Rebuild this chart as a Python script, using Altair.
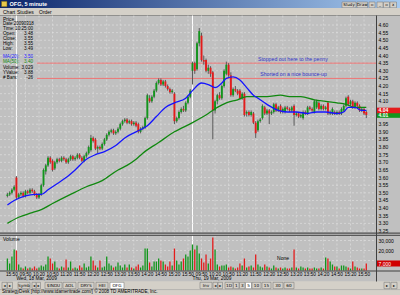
import altair as alt
import pandas as pd

FONT = "Liberation Sans"

# ---------------- data ----------------
opens = [
    3.48, 3.49, 3.50, 3.52, 3.60, 3.47, 3.49, 3.50, 3.48, 3.51,
    3.50, 3.52, 3.51, 3.49, 3.47, 3.49, 3.55, 3.64, 3.68, 3.73,
    3.71, 3.66, 3.70, 3.72, 3.71, 3.73, 3.72, 3.70, 3.72, 3.74,
    3.72, 3.73, 3.75, 3.73, 3.71, 3.74, 3.76, 3.78, 3.86, 3.85,
    3.79, 3.80, 3.79, 3.82, 3.85, 3.88, 3.90, 3.91, 3.89, 3.90,
    3.92, 3.95, 3.97, 3.98, 3.96, 3.97, 3.95, 3.96, 3.95, 3.90,
    3.92, 3.93, 3.99, 4.12, 4.10, 4.13, 4.17, 4.22, 4.24, 4.21,
    4.23, 4.20, 4.18, 4.16, 4.15, 3.97, 3.99, 4.03, 4.05, 4.04,
    4.09, 4.13, 4.30, 4.35, 4.31, 4.48, 4.53, 4.37, 4.37, 4.30,
    4.32, 4.29, 4.04, 4.10, 4.14, 4.12, 4.20, 4.28, 4.34, 4.27,
    4.14, 4.18, 4.17, 4.17, 4.12, 4.15, 4.02, 4.03, 4.01, 4.02,
    3.96, 3.91, 3.97, 3.99, 4.06, 4.02, 4.04, 4.02, 4.03, 4.08,
    4.04, 4.07, 4.03, 4.03, 4.06, 4.05, 4.04, 4.07, 4.01, 4.02,
    4.00, 3.99, 4.03, 4.02, 4.06, 4.05, 4.03, 4.06, 4.09, 4.05,
    4.07, 4.05, 4.09, 4.02, 4.02, 4.03, 4.02, 4.03, 4.02, 4.04,
    4.07, 4.13, 4.08, 4.10, 4.06, 4.09, 4.07, 4.04, 4.05, 4.03,
]
highs = [
    3.50, 3.51, 3.53, 3.55, 3.61, 3.50, 3.51, 3.51, 3.52, 3.52,
    3.53, 3.53, 3.52, 3.50, 3.50, 3.56, 3.66, 3.69, 3.74, 3.74,
    3.72, 3.71, 3.73, 3.73, 3.74, 3.74, 3.73, 3.73, 3.75, 3.75,
    3.74, 3.76, 3.76, 3.74, 3.75, 3.77, 3.81, 3.88, 3.87, 3.86,
    3.81, 3.81, 3.83, 3.86, 3.89, 3.91, 3.92, 3.92, 3.91, 3.93,
    3.96, 3.98, 3.99, 3.99, 3.98, 3.98, 3.97, 3.97, 3.96, 3.93,
    3.94, 4.00, 4.15, 4.14, 4.14, 4.18, 4.23, 4.25, 4.25, 4.24,
    4.24, 4.21, 4.19, 4.18, 4.16, 4.00, 4.04, 4.06, 4.07, 4.10,
    4.14, 4.18, 4.36, 4.36, 4.49, 4.58, 4.55, 4.40, 4.38, 4.34,
    4.33, 4.30, 4.11, 4.15, 4.16, 4.21, 4.31, 4.36, 4.35, 4.29,
    4.19, 4.20, 4.18, 4.18, 4.16, 4.16, 4.04, 4.04, 4.04, 4.03,
    3.97, 3.98, 3.99, 4.08, 4.07, 4.05, 4.05, 4.04, 4.09, 4.09,
    4.07, 4.08, 4.06, 4.07, 4.07, 4.06, 4.07, 4.08, 4.03, 4.03,
    4.02, 4.04, 4.04, 4.07, 4.07, 4.06, 4.11, 4.11, 4.10, 4.08,
    4.08, 4.07, 4.10, 4.04, 4.06, 4.04, 4.04, 4.04, 4.06, 4.08,
    4.13, 4.14, 4.11, 4.11, 4.10, 4.10, 4.08, 4.06, 4.06, 4.04,
]
lows = [
    3.47, 3.48, 3.49, 3.51, 3.46, 3.46, 3.48, 3.47, 3.47, 3.49,
    3.49, 3.50, 3.48, 3.46, 3.46, 3.48, 3.54, 3.62, 3.67, 3.69,
    3.64, 3.65, 3.69, 3.70, 3.70, 3.71, 3.69, 3.69, 3.71, 3.71,
    3.71, 3.72, 3.72, 3.70, 3.70, 3.73, 3.75, 3.77, 3.83, 3.78,
    3.76, 3.78, 3.78, 3.81, 3.84, 3.87, 3.89, 3.88, 3.88, 3.89,
    3.91, 3.94, 3.96, 3.95, 3.95, 3.94, 3.94, 3.93, 3.89, 3.89,
    3.91, 3.92, 3.98, 4.09, 4.09, 4.12, 4.16, 4.21, 4.20, 4.20,
    4.19, 4.17, 4.15, 4.15, 3.95, 3.96, 3.98, 4.02, 4.03, 4.03,
    4.08, 4.12, 4.21, 4.28, 4.30, 4.46, 4.36, 4.34, 4.29, 4.28,
    4.26, 3.85, 4.02, 4.08, 4.11, 4.11, 4.19, 4.27, 4.26, 4.13,
    4.13, 4.16, 4.14, 4.11, 4.11, 4.00, 4.00, 4.00, 4.00, 3.95,
    3.86, 3.90, 3.96, 3.98, 4.01, 4.01, 3.95, 4.01, 4.02, 4.03,
    4.03, 4.02, 4.02, 4.02, 4.04, 4.03, 4.03, 3.94, 4.00, 3.99,
    3.99, 3.98, 4.01, 4.01, 4.04, 4.03, 4.02, 4.05, 4.04, 4.04,
    4.04, 4.04, 4.01, 4.01, 4.01, 4.01, 4.01, 4.01, 4.01, 4.03,
    4.06, 4.07, 4.07, 4.05, 4.05, 4.06, 4.03, 4.03, 4.01, 3.99,
]
closes = [
    3.49, 3.50, 3.52, 3.54, 3.47, 3.49, 3.50, 3.48, 3.51, 3.50,
    3.52, 3.51, 3.49, 3.47, 3.49, 3.55, 3.65, 3.68, 3.73, 3.70,
    3.65, 3.70, 3.72, 3.71, 3.73, 3.72, 3.70, 3.72, 3.74, 3.72,
    3.73, 3.75, 3.73, 3.71, 3.74, 3.76, 3.80, 3.86, 3.84, 3.79,
    3.80, 3.79, 3.82, 3.85, 3.88, 3.90, 3.91, 3.89, 3.90, 3.92,
    3.95, 3.97, 3.98, 3.96, 3.97, 3.95, 3.96, 3.94, 3.90, 3.92,
    3.93, 3.99, 4.14, 4.10, 4.13, 4.17, 4.22, 4.24, 4.21, 4.23,
    4.20, 4.18, 4.16, 4.17, 3.97, 3.99, 4.03, 4.05, 4.04, 4.09,
    4.13, 4.17, 4.35, 4.30, 4.48, 4.56, 4.37, 4.36, 4.30, 4.32,
    4.28, 4.04, 4.10, 4.14, 4.12, 4.20, 4.30, 4.34, 4.27, 4.14,
    4.18, 4.17, 4.15, 4.12, 4.15, 4.01, 4.03, 4.01, 4.03, 3.96,
    3.89, 3.97, 3.98, 4.07, 4.02, 4.04, 4.02, 4.03, 4.08, 4.04,
    4.06, 4.03, 4.05, 4.06, 4.05, 4.04, 4.06, 4.01, 4.02, 4.00,
    4.01, 4.03, 4.02, 4.06, 4.05, 4.04, 4.10, 4.10, 4.05, 4.07,
    4.05, 4.06, 4.02, 4.03, 4.05, 4.02, 4.03, 4.02, 4.05, 4.07,
    4.12, 4.08, 4.10, 4.06, 4.09, 4.07, 4.04, 4.05, 4.02, 4.01,
]
volume_k = [
    12, 7, 14, 21, 20, 6, 3, 2, 4, 2,
    3, 2, 4, 2, 3, 5, 4, 6, 14, 12,
    7, 9, 3, 2, 4, 3, 11, 3, 9, 2,
    3, 2, 5, 3, 7, 3, 4, 14, 10, 5,
    3, 10, 3, 4, 14, 7, 5, 3, 4, 8,
    5, 3, 6, 3, 6, 3, 2, 4, 6, 3,
    5, 22, 22, 8, 4, 9, 9, 12, 10, 9,
    6, 4, 9, 5, 22, 10, 6, 9, 12, 16,
    14, 20, 26, 21, 25, 17, 12, 8, 16, 7,
    12, 33, 21, 6, 4, 5, 5, 6, 3, 4,
    3, 2, 3, 7, 5, 12, 3, 4, 5, 3,
    16, 6, 4, 3, 6, 4, 3, 2, 5, 3,
    2, 3, 2, 3, 2, 2, 3, 21, 3, 2,
    4, 3, 2, 3, 2, 2, 3, 2, 2, 3,
    2, 13, 12, 9, 6, 4, 4, 2, 5, 5,
    4, 3, 2, 9, 4, 3, 2, 2, 2, 7,
]
ma20_bars = [0, 3, 8, 12, 15, 18, 22, 26, 30, 35, 39, 43, 48, 52, 57, 62, 66, 70, 74,
             79, 82, 86, 89, 92, 95, 97, 100, 103, 106, 109, 111, 115, 120, 124, 128,
             133, 137, 141, 146, 149, 151, 154, 157, 159]
ma20_vals = [3.42, 3.45, 3.48, 3.49, 3.49, 3.52, 3.56, 3.60, 3.65, 3.72, 3.75, 3.77, 3.81,
             3.86, 3.90, 3.94, 4.00, 4.06, 4.09, 4.12, 4.17, 4.22, 4.21, 4.19, 4.22, 4.25,
             4.26, 4.24, 4.19, 4.14, 4.12, 4.08, 4.04, 4.03, 4.03, 4.02, 4.03, 4.03, 4.02,
             4.03, 4.06, 4.06, 4.04, 4.04]
ma50_bars = [0, 5, 11, 15, 20, 28, 35, 42, 49, 53, 57, 60, 67, 74, 82, 89, 93, 97, 102,
             106, 111, 115, 121, 125, 130, 136, 141, 146, 150, 154, 159]
ma50_vals = [3.30, 3.34, 3.37, 3.39, 3.43, 3.49, 3.54, 3.58, 3.65, 3.68, 3.72, 3.76, 3.83,
             3.90, 3.96, 4.02, 4.06, 4.09, 4.11, 4.13, 4.13, 4.13, 4.14, 4.13, 4.13, 4.11,
             4.10, 4.09, 4.08, 4.06, 4.06]

price_tick_labels = ["4.60", "4.55", "4.50", "4.45", "4.40", "4.35", "4.30", "4.25", "4.20",
                     "4.15", "4.10", "4.05", "4.00", "3.95", "3.90", "3.85", "3.80", "3.75",
                     "3.70", "3.65", "3.60", "3.55", "3.50", "3.45", "3.40", "3.35", "3.30",
                     "3.25"]
price_labels_hidden = ["4.05", "4.00"]      # covered by the last-value boxes
volume_tick_k = [30, 20, 10]
volume_tick_labels = ["30,000", "20,000", "10,000"]
volume_labels_hidden = ["10,000"]           # covered by the last-volume box
time_labels = ["15:50", "09:50", "10:20", "10:50", "11:20", "11:50", "12:20", "12:50", "13:20",
               "13:50", "14:20", "14:50", "15:20", "15:50", "09:50", "10:20", "10:50", "11:20",
               "11:50", "12:20", "12:50", "13:20", "13:50", "14:20", "14:50", "15:20", "15:50"]
time_label_bars = [2, 8, 14, 20, 26, 32, 38, 44, 50, 56, 62, 68, 74, 80,
                   86, 92, 98, 104, 110, 116, 122, 128, 134, 140, 146, 152, 158]
day_labels = ["Wed, 18 Mar, 2009", "Thu, 19 Mar, 2009"]
day_start_bars = [4, 82]
level_prices = [4.35, 4.25]
level_start_bar = 13
note_texts = ["Stopped out here to the penny", "Shorted on a nice bounce-up"]
note_bars = [111, 112]
note_prices = [4.38, 4.28]
info_labels = ["Date:", "Time:", "Open:", "Close:", "High:", "Low:", "MA(20):", "MA(50):",
               "Volume:", "YValue:", "# Bars:"]
info_values = ["20090318", "10:25:00", "3.48", "3.55", "3.55", "3.49", "3.50", "3.40",
               "3,029", "3.88", "-26"]
last_ma20 = 4.04
last_close = 4.01

# ---------------- tables ----------------
n = len(opens)
candles = pd.DataFrame({"bar": list(range(n)), "open": opens, "high": highs,
                        "low": lows, "close": closes, "vol": volume_k})
candles["dir"] = ["up" if c >= o else "down" for o, c in zip(opens, closes)]
ma20 = pd.DataFrame({"bar": ma20_bars, "val": ma20_vals})
ma50 = pd.DataFrame({"bar": ma50_bars, "val": ma50_vals})
pticks = pd.DataFrame({"price": [float(s) for s in price_tick_labels], "label": price_tick_labels})
pticks_shown = pticks[~pticks["label"].isin(price_labels_hidden)]
vticks = pd.DataFrame({"vol": volume_tick_k, "label": volume_tick_labels})
vticks_shown = vticks[~vticks["label"].isin(volume_labels_hidden)]
tlabels = pd.DataFrame({"bar": time_label_bars, "label": time_labels})
days = pd.DataFrame({"bar": day_start_bars, "label": day_labels})
levels = pd.DataFrame({"price": level_prices, "start": [level_start_bar] * len(level_prices)})
notes = pd.DataFrame({"bar": note_bars, "price": note_prices, "label": note_texts})
pboxes = pd.DataFrame({"price": [last_close, last_ma20],
                       "label": [f"{last_close:.2f}", f"{last_ma20:.2f}"],
                       "kind": ["close", "ma"]})
vbox = pd.DataFrame({"vol": [volume_k[-1]], "label": [f"{volume_k[-1] * 1000:,}"]})

# ---------------- scales ----------------
XS = alt.Scale(domain=[0, 159], range=[2.4, 371.3], zero=False, nice=False)
PY = alt.Scale(domain=[3.25, 4.60], range=[231, 25], zero=False, nice=False)
VY = alt.Scale(domain=[0, 30], range=[270.5, 240.5], zero=False, nice=False)


def X(field="bar"):
    return alt.X(f"{field}:Q", scale=XS, axis=None)


def PYenc(field):
    return alt.Y(f"{field}:Q", scale=PY, axis=None)


def VYenc(field):
    return alt.Y(f"{field}:Q", scale=VY, axis=None)


dir_colors = alt.Color("dir:N", scale=alt.Scale(domain=["up", "down"],
                                                range=["#12961c", "#e41c1c"]), legend=None)
vol_colors = alt.Color("dir:N", scale=alt.Scale(domain=["up", "down"],
                                                range=["#1ccd1c", "#cf1111"]), legend=None)

# ---------------- chrome helpers ----------------
one = pd.DataFrame({"k": [0]})


def box(x0, x1, y0, y1, fill, stroke=None, sw=0.6):
    mk = {"fill": fill}
    if stroke is not None:
        mk["stroke"] = stroke
        mk["strokeWidth"] = sw
    return alt.Chart(one).mark_rect(**mk).encode(
        x=alt.value(x0), x2=alt.value(x1), y=alt.value(y0), y2=alt.value(y1))


def txt(x, y, s, size=5.0, color="#000000", align="left", weight="normal", font=FONT):
    return alt.Chart(one).mark_text(text=s, fontSize=size, color=color, align=align,
                                    baseline="middle", fontWeight=weight, font=font).encode(
        x=alt.value(x), y=alt.value(y))


def hl(x0, x1, y, color, sw=1.0):
    return alt.Chart(one).mark_rule(color=color, strokeWidth=sw).encode(
        x=alt.value(x0), x2=alt.value(x1), y=alt.value(y))


def vl(x, y0, y1, color, sw=1.0):
    return alt.Chart(one).mark_rule(color=color, strokeWidth=sw).encode(
        x=alt.value(x), y=alt.value(y0), y2=alt.value(y1))


def button(x0, x1, y0, y1, label, active=False, size=4.3, font=FONT):
    fill = "#ffffff" if active else "#d4d0c8"
    return [box(x0, x1, y0, y1, fill, "#808080", 0.6),
            txt((x0 + x1) / 2, (y0 + y1) / 2 + 0.3, label, size=size, align="center", font=font)]


back = []
back.append(box(0, 400, 15.5, 281.5, "#c0c0c0"))
grad = alt.Gradient(gradient="linear",
                    stops=[alt.GradientStop(color="#0a246a", offset=0),
                           alt.GradientStop(color="#a6caf0", offset=1)],
                    x1=0, x2=1, y1=0, y2=0)
back.append(alt.Chart(one).mark_rect(fill=grad).encode(
    x=alt.value(0), x2=alt.value(400), y=alt.value(0), y2=alt.value(8)))
back.append(box(1.5, 7, 1.3, 6.7, "#e8c84a", "#6a5a10", 0.5))
back.append(txt(9.5, 4.3, "OFG, 5 minute", size=5.5, color="#ffffff", weight="bold"))
for (a, b, lab) in [(342, 356, "Study"), (357, 367.5, "Draw"), (369, 375, "▫"),
                    (377, 383, "_"), (383.5, 389.5, "▫"), (390, 396.5, "x")]:
    back += button(a, b, 2.0, 7.8, lab, size=4.0, font="DejaVu Sans")
back.append(box(0, 400, 8, 15.5, "#d4d0c8"))
back.append(txt(3, 12, "Chart", size=5))
back.append(txt(17, 12, "Studies", size=5))
back.append(txt(39, 12, "Order", size=5))
back.append(hl(0, 400, 15.5, "#808080", 0.8))
back.append(box(0, 400, 281.5, 289.5, "#d4d0c8"))
back.append(box(0, 400, 289.5, 295, "#d4d0c8"))
back.append(hl(0, 400, 289.6, "#a0a0a0", 0.6))

# vertical grid + day separators
vgrid = alt.Chart(tlabels).mark_rule(color="#dedede", strokeWidth=0.7, strokeDash=[2, 2]).encode(
    x=X(), y=alt.value(15.5), y2=alt.value(271))
daylines = alt.Chart(days).mark_rule(color="#ffffff", strokeWidth=1).encode(
    x=X(), y=alt.value(15.5), y2=alt.value(271))

# ---------------- price pane ----------------
hgrid = alt.Chart(pticks).mark_rule(color="#dedede", strokeWidth=0.7, strokeDash=[2, 2]).encode(
    y=PYenc("price"), x=alt.value(0), x2=alt.value(376))
lvl = alt.Chart(levels).mark_rule(color="#ee7474", strokeWidth=1).encode(
    x=X("start"), x2=alt.value(376), y=PYenc("price"))
wicks = alt.Chart(candles).mark_rule(color="#5a5a5a", strokeWidth=1).encode(
    x=X(), y=PYenc("low"), y2=alt.Y2("high"))
bodies = alt.Chart(candles).mark_bar(size=1.9, orient="vertical").encode(
    x=X(), y=PYenc("open"), y2=alt.Y2("close"), color=dir_colors)
ma20_line = alt.Chart(ma20).mark_line(color="#1414ff", strokeWidth=1.3, interpolate="monotone").encode(
    x=X(), y=PYenc("val"))
ma50_line = alt.Chart(ma50).mark_line(color="#10880f", strokeWidth=1.3, interpolate="monotone").encode(
    x=X(), y=PYenc("val"))
note_layer = alt.Chart(notes).mark_text(align="left", baseline="middle", fontSize=5.2,
                                        color="#3434c8", font=FONT).encode(
    x=X(), y=PYenc("price"), text="label:N")
plabels = alt.Chart(pticks_shown).mark_text(align="left", baseline="middle", fontSize=5,
                                            color="#000000", font=FONT).encode(
    y=PYenc("price"), x=alt.value(378.5), text="label:N")
pbox = alt.Chart(pboxes).mark_tick(orient="horizontal", size=24, thickness=5.6, opacity=1).encode(
    x=alt.value(388.5), y=PYenc("price"),
    color=alt.Color("kind:N", scale=alt.Scale(domain=["close", "ma"], range=["#000000", "#1030ff"]),
                    legend=None))
pbox_text = alt.Chart(pboxes).mark_text(align="left", baseline="middle", fontSize=5,
                                        color="#ffffff", font=FONT, fontWeight="bold").encode(
    y=PYenc("price"), x=alt.value(378.5), text="label:N")

price_group = alt.layer(hgrid, lvl, wicks, bodies, ma50_line, ma20_line, note_layer,
                        plabels, pbox, pbox_text)

# ---------------- volume pane ----------------
vhgrid = alt.Chart(vticks).mark_rule(color="#dedede", strokeWidth=0.7, strokeDash=[2, 2]).encode(
    y=VYenc("vol"), x=alt.value(0), x2=alt.value(376))
vbars = alt.Chart(candles).mark_rule(strokeWidth=1.3).encode(
    x=X(), y=VYenc("vol"), y2=alt.datum(0), color=vol_colors)
vlabels = alt.Chart(vticks_shown).mark_text(align="left", baseline="middle", fontSize=5,
                                            color="#000000", font=FONT).encode(
    y=VYenc("vol"), x=alt.value(378.5), text="label:N")
vbox_mark = alt.Chart(vbox).mark_tick(orient="horizontal", size=24, thickness=6, opacity=1,
                                      color="#d00000").encode(
    x=alt.value(388.5), y=VYenc("vol"))
vbox_text = alt.Chart(vbox).mark_text(align="left", baseline="middle", fontSize=5,
                                      color="#ffffff", font=FONT).encode(
    y=VYenc("vol"), x=alt.value(378.5), text="label:N")
vol_group = alt.layer(vhgrid, vbars, vlabels, vbox_mark, vbox_text)

# ---------------- foreground chrome ----------------
front = []
front.append(box(0, 376, 232.6, 235.6, "#c0c0c0"))
front.append(hl(0, 400, 233.2, "#505050", 1.2))
front.append(hl(0, 400, 235.3, "#404040", 1.0))
front.append(hl(0, 400, 271, "#404040", 1.0))
front.append(vl(376.5, 15.5, 281.5, "#404040", 1.0))
front.append(txt(3, 19.3, "Price", size=5))
ys = [24.3, 29.3, 34.3, 39.3, 44.3, 49.3, 57.3, 62.3, 67.8, 72.8, 78.3]
cols = ["#000000"] * 6 + ["#2020ff", "#108a10"] + ["#000000"] * 3
for k, (lab, val, y, c) in enumerate(zip(info_labels, info_values, ys, cols)):
    if k == 0:
        # the date line fills the whole width of the data window in one run
        front.append(txt(3, y, f"{lab}{val}", size=4.5, color=c))
    else:
        front.append(txt(3, y, lab, size=4.6, color=c))
        front.append(txt(33, y, val, size=4.6, color=c, align="right"))
front.append(txt(3, 239.3, "Volume", size=5))
front.append(txt(283, 258, "None", size=5, align="center"))

tl_layer = alt.Chart(tlabels).mark_text(align="center", baseline="middle", fontSize=4.8,
                                        color="#000000", font=FONT).encode(
    x=X(), y=alt.value(274.8), text="label:N")
day_layer = alt.Chart(days).mark_text(align="left", baseline="middle", fontSize=4.8,
                                      color="#000000", font=FONT).encode(
    x=X(), y=alt.value(279), text="label:N")
front += [tl_layer, day_layer]

tabs = [(2, 7, "◂", False), (7.5, 12.5, "▸", False), (18, 30, "Symb", False),
        (32, 36, "◂", False), (36.5, 40.5, "▸", False), (45, 62, "$INDU", False),
        (63, 76, "AOL", False), (78, 94, "DRYS", False), (96, 108, "HEI", False),
        (110, 124, "OFG", True), (200, 212, "Inv", False), (213, 217.5, "◂", False),
        (218, 222.5, "▸", False), (225, 233, "1D", False), (233.5, 239, "1", False),
        (239.5, 245, "3", False), (245.5, 251.5, "5", True), (252, 261, "10", False),
        (262, 271, "15", False), (273, 283, "30", False), (284, 294, "60", False),
        (384, 390, "▸", False), (391, 397, "▸", False)]
for a, b, lab, act in tabs:
    front += button(a, b, 282.3, 288.7, lab, active=act, size=4.2, font="DejaVu Sans")
front.append(txt(2, 292.4, "StrategyDesk  [http://www.tdameritrade.com/]  \u00a9 2008 TD AMERITRADE, Inc.",
                 size=4.6))

chart = alt.layer(*back, vgrid, daylines, price_group, vol_group, *front).resolve_scale(
    y="independent"
).properties(
    width=400, height=295, padding=0,
    autosize=alt.AutoSizeParams(type="none"),
    background="#d4d0c8",
).configure_view(stroke=None)

chart.save("out.html", embed_options={"renderer": "svg", "actions": False})
